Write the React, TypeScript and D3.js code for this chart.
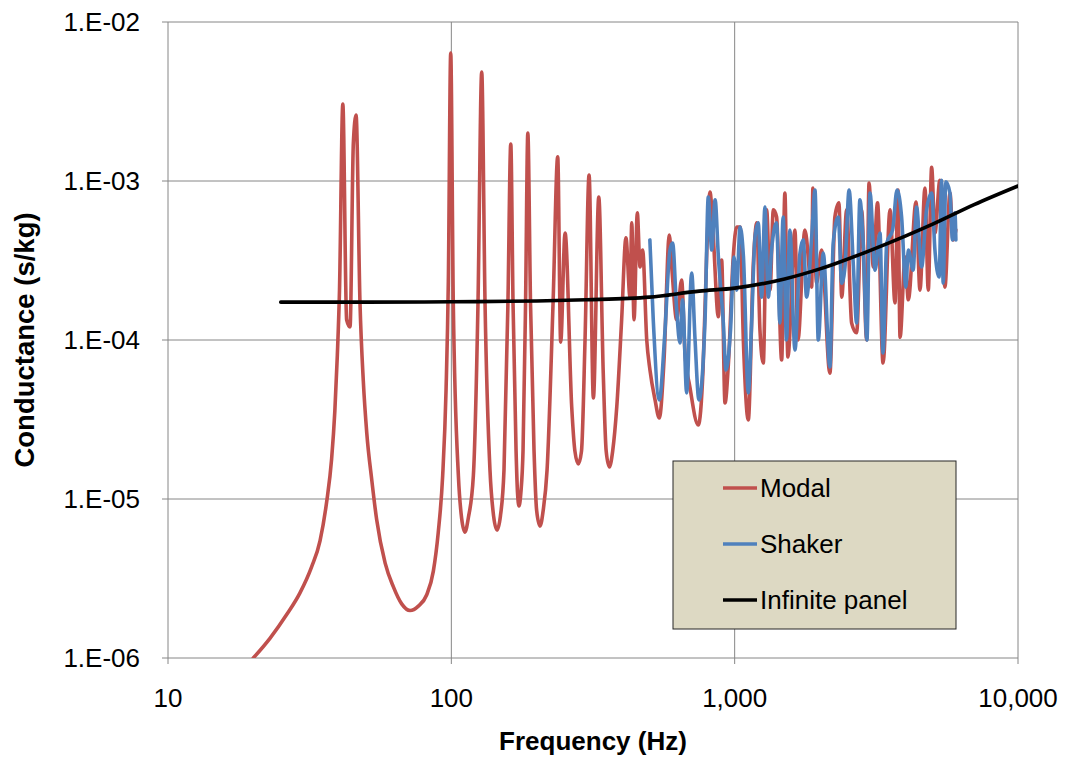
import React from 'react';
import * as d3 from 'd3';

const modalFreq = [20.0, 22.9, 26.2, 29.2, 32.1, 34.4, 36.3, 37.8, 38.8, 39.6, 40.3, 41.4, 42.7, 43.9, 45.1, 46.1, 47.6, 48.9, 50.3, 52.4,
  54.5, 58.4, 62.4, 66.8, 71.5, 76.5, 81.8, 86.4, 89.9, 93.2, 95.8, 97.6, 99.5, 101.6, 105.9, 108.7, 111.7, 114.8, 119.6, 124.2,
  128.0, 131.5, 136.9, 141.0, 144.9, 149.0, 153.4, 158.4, 162.1, 165.1, 169.2, 171.2, 173.3, 176.0, 179.1, 182.8, 186.2, 190.3, 195.8, 200.0,
  205.6, 211.0, 217.7, 228.6, 237.4, 243.2, 252.0, 266.0, 273.0, 280.7, 288.0, 296.4, 306.3, 317.2, 331.4, 343.7, 352.0, 361.2, 371.0, 383.6,
  399.1, 413.3, 427.2, 433.3, 441.4, 453.3, 463.4, 473.3, 489.4, 502.4, 523.6, 542.0, 563.2, 587.9, 600.8, 624.2, 649.8, 667.9, 695.0, 744.0,
  773.2, 796.9, 818.4, 840.6, 875.6, 899.5, 924.5, 950.6, 988.5, 1016, 1045, 1074, 1117, 1164, 1197, 1228, 1262, 1297, 1333, 1369,
  1406, 1465, 1504, 1541, 1632, 1672, 1770, 1870, 1888, 1945, 2027, 2168, 2258, 2333, 2387, 2485, 2587, 2694, 2806, 2923,
  2980, 3085, 3193, 3340, 3535, 3680, 3770, 3835, 3994, 4101, 4366, 4508, 4695, 4822, 4957, 5091, 5301, 5521, 5752, 5902, 6036];
const modalVal = [1.0e-6, 1.33e-6, 1.87e-6, 2.56e-6, 3.73e-6, 5.45e-6, 9.57e-6, 1.79e-5, 3.57e-5, 8.05e-5, 2.06e-4, 3.05e-3, 1.34e-4, 1.21e-4, 1.73e-3, 2.6e-3, 1.71e-4, 5.52e-5, 2.6e-5, 1.31e-5,
  7.43e-6, 3.95e-6, 2.81e-6, 2.19e-6, 1.99e-6, 2.12e-6, 2.49e-6, 3.52e-6, 6.15e-6, 1.4e-5, 4.85e-5, 2.35e-4, 6.38e-3, 1.71e-4, 1.4e-5, 7.6e-6, 6.19e-6, 7.6e-6, 1.4e-5, 1.71e-4,
  4.85e-3, 1.71e-4, 1.52e-5, 7.8e-6, 6.38e-6, 7.8e-6, 1.52e-5, 1.71e-4, 1.71e-3, 1.71e-4, 2.03e-5, 1.1e-5, 9.04e-6, 1.1e-5, 2.03e-5, 1.71e-4, 2.0e-3, 1.71e-4, 2.03e-5, 8.5e-6,
  6.76e-6, 8.5e-6, 1.52e-5, 1.71e-4, 1.42e-3, 9.7e-5, 4.71e-4, 3.79e-5, 2.0e-5, 1.66e-5, 2.0e-5, 1.0e-4, 1.09e-3, 4.32e-5, 7.92e-4, 6.19e-5, 2.0e-5, 1.59e-5, 2.0e-5, 3.79e-5,
  1.34e-4, 4.39e-4, 1.86e-4, 5.45e-4, 1.34e-4, 6.3e-4, 2.88e-4, 3.68e-4, 1.0e-4, 6.47e-5, 4.2e-5, 3.23e-5, 7.48e-5, 4.57e-4, 2.75e-4, 1.34e-4, 2.38e-4, 8.28e-5, 5.06e-5, 2.92e-5,
  6.47e-5, 3.52e-4, 8.53e-4, 4.45e-4, 1.4e-4, 3.18e-4, 4.02e-5, 7.16e-5, 3.33e-4, 5.14e-4, 5.14e-4, 9.57e-5, 3.14e-5, 3.05e-4, 5.45e-4, 1.16e-4, 7.16e-5, 6.58e-4, 2.06e-4, 6.58e-4,
  5.94e-4, 7.48e-5, 8.41e-4, 7.82e-5, 4.92e-4, 1.0e-4, 4.92e-4, 2.15e-4, 9.04e-4, 2.28e-4, 3.68e-4, 6.19e-5, 5.94e-4, 7.28e-4, 1.86e-4, 6.58e-4, 1.28e-4, 1.11e-4, 6.58e-4, 1.0e-4,
  9.71e-4, 2.88e-4, 7.28e-4, 7.16e-5, 6.58e-4, 1.71e-4, 8.77e-4, 1.04e-4, 3.33e-4, 1.79e-4, 7.38e-4, 2.06e-4, 9.04e-4, 2.06e-4, 1.22e-3, 4.71e-4, 1.01e-3, 2.15e-4, 8.41e-4, 4.26e-4, 4.92e-4];

const shakerFreq = [502, 516, 542, 567, 591, 604, 624, 641, 655, 677, 705, 724, 748, 786, 807, 830, 853, 876, 912, 932,
  967, 995, 1016, 1045, 1074, 1117, 1148, 1180, 1211, 1245, 1279, 1314, 1350, 1406, 1444, 1483, 1524, 1566, 1632, 1700,
  1746, 1794, 1870, 1921, 1973, 2054, 2168, 2227, 2321, 2387, 2451, 2534, 2625, 2694, 2767, 2842, 2929, 3004, 3129, 3258,
  3340, 3441, 3610, 3741, 3883, 4019, 4101, 4266, 4385, 4568, 4756, 4957, 5091, 5270, 5372, 5445, 5563, 5752, 5873, 5990, 6036];
const shakerVal = [4.26e-4, 1.34e-4, 4.2e-5, 1.11e-4, 3.68e-4, 4.07e-4, 1.55e-4, 9.57e-5, 1.79e-4, 4.65e-5, 2.64e-4, 1.04e-4, 4.2e-5, 1.34e-4, 7.92e-4, 3.68e-4, 7.61e-4, 3.33e-4, 1.28e-4, 6.47e-5,
  1.16e-4, 3.33e-4, 2.06e-4, 5.14e-4, 3.33e-4, 4.65e-5, 1.28e-4, 4.45e-4, 5.45e-4, 1.86e-4, 6.86e-4, 1.86e-4, 3.68e-4, 5.45e-4, 1.28e-4, 5.94e-4, 1.0e-4, 4.92e-4, 8.65e-5, 3.52e-4,
  4.26e-4, 1.86e-4, 4.45e-4, 8.77e-4, 1.0e-4, 3.52e-4, 6.76e-5, 4.07e-4, 5.94e-4, 2.28e-4, 2.88e-4, 8.77e-4, 2.88e-4, 1.28e-4, 7.61e-4, 4.07e-4, 1.0e-4, 8.41e-4, 2.75e-4, 4.71e-4,
  8.28e-5, 4.07e-4, 4.92e-4, 8.77e-4, 5.94e-4, 2.15e-4, 3.68e-4, 2.75e-4, 6.86e-4, 2.88e-4, 6.58e-4, 8.41e-4, 3.68e-4, 2.49e-4, 1.01e-3, 2.28e-4, 9.89e-4, 8.41e-4, 4.26e-4, 6.3e-4, 4.26e-4];

const panelFreq = [25, 50, 100, 200, 300, 500, 750, 1000, 1500, 2000, 3000, 4000, 5000, 7000, 10000];
const panelVal = [1.73e-4, 1.73e-4, 1.74e-4, 1.76e-4, 1.79e-4, 1.86e-4, 2.03e-4, 2.12e-4, 2.42e-4, 2.8e-4, 3.65e-4, 4.5e-4, 5.35e-4, 7.1e-4, 9.3e-4];

const xTicks = [10, 100, 1000, 10000];
const yTicks = [1e-6, 1e-5, 1e-4, 1e-3, 1e-2];
const yTickLabels = ['1.E-06', '1.E-05', '1.E-04', '1.E-03', '1.E-02'];

const series = [
  { name: 'Modal', color: '#C0504D', freq: modalFreq, val: modalVal },
  { name: 'Shaker', color: '#4F81BD', freq: shakerFreq, val: shakerVal },
  { name: 'Infinite panel', color: '#000000', freq: panelFreq, val: panelVal },
];

const W = 1065, H = 758;
const margin = { left: 168, right: 47, top: 22, bottom: 100 };
const font = "'Liberation Sans', Arial, sans-serif";

export default function App() {
  const x = d3.scaleLog().domain([10, 10000]).range([margin.left, W - margin.right]);
  const y = d3.scaleLog().domain([1e-6, 1e-2]).range([H - margin.bottom, margin.top]);
  const line = d3.line<[number, number]>()
    .x(d => x(d[0]))
    .y(d => y(d[1]))
    .curve(d3.curveMonotoneX);
  const fmt = d3.format(',');
  const x0 = x.range()[0], x1 = x.range()[1];
  const yB = y.range()[0], yT = y.range()[1];

  const legend = { x: 673, y: 461, w: 283, h: 168 };

  return (
    <svg width={W} height={H} style={{ position: 'absolute', left: 0, top: 0, background: '#fff' }} fontFamily={font}>
      <defs>
        <clipPath id="plot">
          <rect x={x0} y={yT} width={x1 - x0} height={yB - yT} />
        </clipPath>
      </defs>
      {/* grid */}
      {yTicks.map(t => (
        <line key={'gy' + t} x1={x0 - 6} x2={x1} y1={y(t)} y2={y(t)} stroke="#868686" strokeWidth={1} />
      ))}
      {xTicks.map(t => (
        <line key={'gx' + t} x1={x(t)} x2={x(t)} y1={yT} y2={yB + 6} stroke="#868686" strokeWidth={1} />
      ))}
      {/* series */}
      <g clipPath="url(#plot)">
        {series.map(s => (
          <path key={s.name} d={line(d3.zip(s.freq, s.val) as [number, number][]) || ''}
            fill="none" stroke={s.color} strokeWidth={3.6} strokeLinejoin="round" strokeLinecap="round" />
        ))}
      </g>
      {/* tick labels */}
      {yTicks.map((t, i) => (
        <text key={'ly' + t} x={140} y={y(t) + 9} textAnchor="end" fontSize={26} fill="#000">{yTickLabels[i]}</text>
      ))}
      {xTicks.map(t => (
        <text key={'lx' + t} x={x(t)} y={707} textAnchor="middle" fontSize={26} fill="#000">{fmt(t)}</text>
      ))}
      {/* axis titles */}
      <text x={(x0 + x1) / 2} y={750} textAnchor="middle" fontSize={26} fontWeight="bold">Frequency (Hz)</text>
      <text transform={`translate(34, ${(yT + yB) / 2}) rotate(-90)`} textAnchor="middle" fontSize={27.5} fontWeight="bold">Conductance (s/kg)</text>
      {/* legend */}
      <rect x={legend.x} y={legend.y} width={legend.w} height={legend.h} fill="#DDD9C3" stroke="#262626" strokeWidth={1} />
      {series.map((s, i) => (
        <g key={'lg' + s.name} transform={`translate(${legend.x + 50}, ${legend.y + 27 + i * 56})`}>
          <line x1={0} x2={34} y1={0} y2={0} stroke={s.color} strokeWidth={3.6} />
          <text x={37} y={9} fontSize={26} fill="#000">{s.name}</text>
        </g>
      ))}
    </svg>
  );
}
